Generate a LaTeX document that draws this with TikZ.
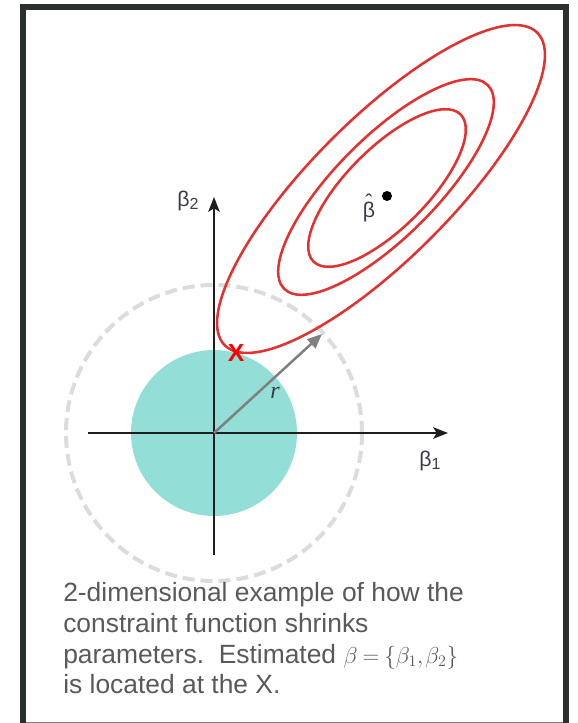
\documentclass[tikz,border=0pt]{standalone}
\usepackage{fontspec}
\setmainfont{Liberation Sans}
\newfontfamily\serifit{Liberation Serif}
\usetikzlibrary{arrows.meta}
\definecolor{framec}{HTML}{2B2F2F}
\definecolor{tealc}{HTML}{93DFD8}
\definecolor{dashc}{HTML}{DCDCDC}
\definecolor{ellc}{HTML}{E3312F}
\definecolor{axisc}{HTML}{1E1E1E}
\definecolor{arrc}{HTML}{808080}
\definecolor{capc}{HTML}{595959}
\definecolor{labc}{HTML}{3A3C4A}
\tikzset{
  axisline/.style={draw=axisc, line width=1.9pt, -{Stealth[length=11pt,width=8.5pt,inset=2.5pt]}},
  contour/.style={draw=ellc, line width=1.9pt},
  axlabel/.style={text=labc, font=\fontsize{16}{16}\selectfont, inner sep=0pt},
}
\newcommand{\capmath}[1]{{\fontsize{18.5}{23}\selectfont\thickmuskip=4mu\thinmuskip=1.5mu$#1$}}
\begin{document}
\begin{tikzpicture}[x=0.75pt, y=-0.75pt]
\useasboundingbox (0,0) rectangle (577,723);
% frame
\draw[framec, line width=3.9pt] (23,735) -- (23,7) -- (566,7) -- (566,735);
\draw[arrc, line width=0.75pt] (26,722.5) -- (563,722.5);
% origin
\coordinate (O) at (214,433);
% constraint disc
\fill[tealc] (O) circle[radius=62.25pt];
% dashed circle
\draw[dashc, line width=3pt, dash pattern=on 9pt off 4.5pt] (O) circle[radius=111pt];
% axes
\coordinate (xl) at (88,433);
\coordinate (xr) at (448,433);
\coordinate (yb) at (214,555);
\coordinate (yt) at (214,197);
\draw[axisline] (xl) -- (xr);
\draw[axisline] (yb) -- (yt);
% contours
\begin{scope}[shift={(381,189)}, rotate=45]
\draw[contour] (0,0) ellipse[x radius=165.75pt, y radius=52.5pt];
\end{scope}
\begin{scope}[shift={(386,187)}, rotate=45]
\draw[contour] (0,0) ellipse[x radius=108pt, y radius=37.5pt];
\end{scope}
\begin{scope}[shift={(387,188)}, rotate=45]
\draw[contour] (0,0) ellipse[x radius=78pt, y radius=30pt];
\end{scope}
% radius arrow
\coordinate (T) at (322,334);
\draw[arrc, line width=1.9pt, -{Triangle[length=11pt,width=9pt]}] (O) -- (T);
\node[text=labc, font=\serifit\itshape\fontsize{18}{18}\selectfont, inner sep=0pt] (r) at (275,393) {r};
% beta hat
\node[circle, fill=black, inner sep=0pt, minimum size=7.5pt] (bh) at (387,196) {};
\node[axlabel, anchor=base] (bhat) at (369,218) {\ooalign{\hfil\raisebox{6pt}{ˆ}\hfil\cr β\cr}};
% axis labels
\node[axlabel] (b2) at (188,201) {β\raisebox{-2.5pt}{\fontsize{12}{12}\selectfont 2}};
\node[axlabel] (b1) at (430,461) {β\raisebox{-2.5pt}{\fontsize{12}{12}\selectfont 1}};
% X
\node[text=red, font=\bfseries\fontsize{18.5}{18.5}\selectfont, inner sep=0pt] (X) at (236,353) {X};
% caption
\node[anchor=north west, inner sep=0pt, align=left, text=capc,
      font=\fontsize{19.8}{23}\selectfont] (cap) at (63,582.5)
 {2-dimensional example of how the\\
  constraint function shrinks\\
  parameters.\ \ Estimated \capmath{\beta=\{\beta_1,\beta_2\}}\\
  is located at the X.};
\end{tikzpicture}
\end{document}
